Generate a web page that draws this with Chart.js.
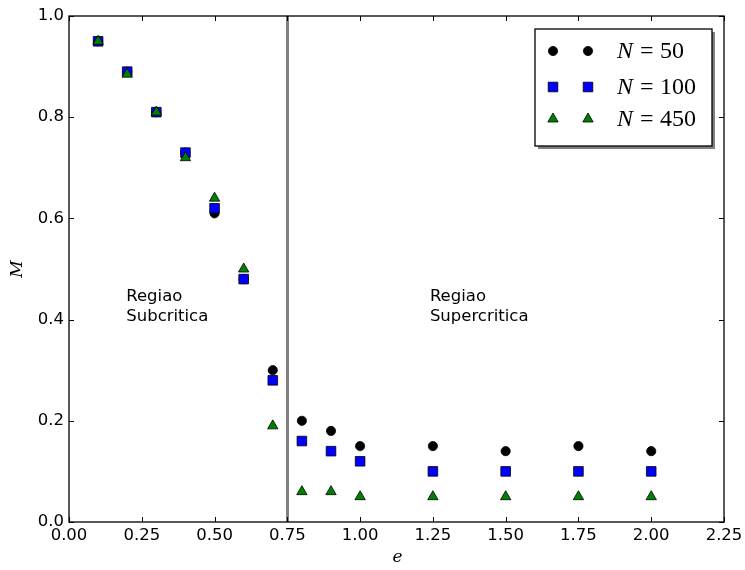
<!DOCTYPE html>
<html>
<head>
<meta charset="utf-8">
<script src="https://cdn.jsdelivr.net/npm/chart.js@4/dist/chart.umd.min.js"></script>
<style>
  html, body { margin: 0; padding: 0; background: #fff; }
  #wrap { width: 745px; height: 570px; position: relative; }
</style>
</head>
<body>
<div id="wrap"><canvas id="chart" width="745" height="570"></canvas></div>
<script>
// ─── data ───
const eVals   = [0.1, 0.2, 0.3, 0.4, 0.5, 0.6, 0.7, 0.8, 0.9, 1.0, 1.25, 1.5, 1.75, 2.0];
const mN50    = [0.95, 0.89, 0.81, 0.73, 0.61, 0.48, 0.30, 0.20, 0.18, 0.15, 0.15, 0.14, 0.15, 0.14];
const mN100   = [0.95, 0.89, 0.81, 0.73, 0.62, 0.48, 0.28, 0.16, 0.14, 0.12, 0.10, 0.10, 0.10, 0.10];
const mN450   = [0.95, 0.885, 0.81, 0.72, 0.64, 0.50, 0.19, 0.06, 0.06, 0.05, 0.05, 0.05, 0.05, 0.05];
const seriesLabels = ['50', '100', '450'];
const xTicks = [0, 0.25, 0.5, 0.75, 1.0, 1.25, 1.5, 1.75, 2.0, 2.25];
const yTicks = [0, 0.2, 0.4, 0.6, 0.8, 1.0];
const critE = 0.75;

const pts = arr => arr.map((m, i) => ({ x: eVals[i], y: m }));

const tickFont = '16.5px "DejaVu Sans"';

// ─── axes, ticks, annotations, legend drawn through the scales ───
const framePlugin = {
  id: 'frame',
  beforeDatasetsDraw(chart) {
    const { ctx, chartArea: a, scales: { x, y } } = chart;
    ctx.save();
    // critical line
    const xc = Math.round(x.getPixelForValue(critE)) + 0.5;
    ctx.strokeStyle = '#808080';
    ctx.lineWidth = 3;
    ctx.beginPath(); ctx.moveTo(xc, a.top); ctx.lineTo(xc, a.bottom); ctx.stroke();

    // region texts
    ctx.fillStyle = '#000';
    ctx.font = tickFont;
    ctx.textAlign = 'left';
    ctx.textBaseline = 'alphabetic';
    const by = y.getPixelForValue(0.4) + 1;
    ctx.fillText('Regiao', x.getPixelForValue(0.2) - 1, by - 19.5);
    ctx.fillText('Subcritica', x.getPixelForValue(0.2) - 1, by);
    ctx.fillText('Regiao', x.getPixelForValue(1.25) - 3, by - 19.5);
    ctx.fillText('Supercritica', x.getPixelForValue(1.25) - 3, by);
    ctx.restore();
  },
  afterDraw(chart) {
    const { ctx, chartArea: a, scales: { x, y } } = chart;
    ctx.save();
    // ticks (inward, all four sides)
    ctx.strokeStyle = '#000';
    ctx.lineWidth = 1;
    ctx.beginPath();
    xTicks.forEach(v => {
      const px = Math.round(x.getPixelForValue(v)) + 0.5;
      ctx.moveTo(px, a.bottom); ctx.lineTo(px, a.bottom - 5);
      ctx.moveTo(px, a.top); ctx.lineTo(px, a.top + 5);
    });
    yTicks.forEach(v => {
      const py = Math.round(y.getPixelForValue(v)) + 0.5;
      ctx.moveTo(a.left, py); ctx.lineTo(a.left + 5, py);
      ctx.moveTo(a.right, py); ctx.lineTo(a.right - 5, py);
    });
    ctx.stroke();

    // spines
    ctx.lineWidth = 1.3;
    ctx.strokeRect(a.left, a.top, a.right - a.left, a.bottom - a.top);

    // tick labels
    ctx.fillStyle = '#000';
    ctx.font = tickFont;
    ctx.textAlign = 'center';
    ctx.textBaseline = 'middle';
    xTicks.forEach(v => ctx.fillText(v.toFixed(2), x.getPixelForValue(v), a.bottom + 14));
    ctx.textAlign = 'right';
    yTicks.forEach(v => ctx.fillText(v.toFixed(1), a.left - 5, y.getPixelForValue(v)));

    // axis titles
    ctx.font = 'italic 17px "DejaVu Serif"';
    ctx.textAlign = 'center';
    ctx.fillText('e', (a.left + a.right) / 2 + 1, a.bottom + 36);
    ctx.save();
    ctx.translate(a.left - 51, (a.top + a.bottom) / 2);
    ctx.rotate(-Math.PI / 2);
    ctx.fillText('M', 0, 0);
    ctx.restore();

    // legend box with shadow
    const lx = 535, ly = 29, lw = 177, lh = 117;
    ctx.fillStyle = '#808080';
    ctx.fillRect(lx + 3, ly + 3, lw, lh);
    ctx.fillStyle = '#fff';
    ctx.fillRect(lx, ly, lw, lh);
    ctx.strokeStyle = '#000';
    ctx.lineWidth = 1.3;
    ctx.strokeRect(lx, ly, lw, lh);

    const rowsY = [51, 87, 119];
    chart.data.datasets.forEach((ds, i) => {
      const opts = {
        pointStyle: ds.pointStyle, radius: ds.pointRadius, rotation: 0,
        borderWidth: ds.pointBorderWidth
      };
      ctx.fillStyle = ds.backgroundColor;
      ctx.strokeStyle = ds.borderColor;
      ctx.lineWidth = ds.pointBorderWidth;
      [553, 588].forEach(mx => Chart.helpers.drawPoint(ctx, opts, mx, rowsY[i]));
      ctx.fillStyle = '#000';
      ctx.textAlign = 'left';
      ctx.textBaseline = 'middle';
      ctx.font = 'italic 24px "Liberation Serif"';
      ctx.fillText('N', 617, rowsY[i] + 1);
      ctx.font = '24px "Liberation Serif"';
      ctx.fillText('=', 640, rowsY[i] + 1);
      ctx.fillText(seriesLabels[i], 660, rowsY[i] + 1);
    });
    ctx.restore();
  }
};

const mk = (label, data, style, radius, color, order) => ({
  label, data, order,
  pointStyle: style, pointRadius: radius, pointHoverRadius: radius,
  backgroundColor: color, borderColor: '#000', pointBorderWidth: 0.8,
  showLine: false
});

new Chart(document.getElementById('chart'), {
  type: 'scatter',
  data: {
    datasets: [
      mk('N=50', pts(mN50), 'circle', 4.6, '#000000', 3),
      mk('N=100', pts(mN100), 'rect', 6.8, '#0000ff', 2),
      mk('N=450', pts(mN450), 'triangle', 6, '#008000', 1)
    ]
  },
  options: {
    responsive: false, animation: false, devicePixelRatio: 1,
    layout: { padding: { left: 69, top: 16, right: 21, bottom: 48 } },
    plugins: { legend: { display: false }, tooltip: { enabled: false } },
    scales: {
      x: { type: 'linear', min: 0, max: 2.25, display: false },
      y: { type: 'linear', min: 0, max: 1.0, display: false }
    }
  },
  plugins: [framePlugin]
});
</script>
</body>
</html>
